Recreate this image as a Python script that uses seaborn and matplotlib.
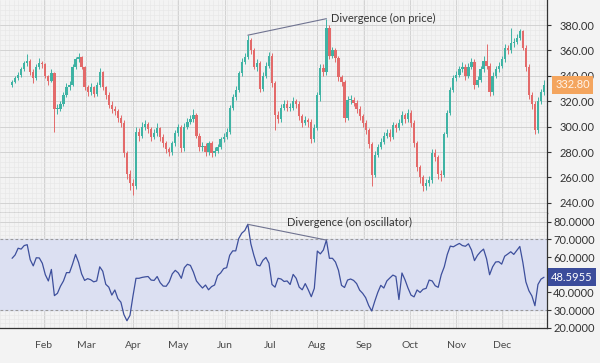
# %% Import packages
import numpy as np
import pandas as pd
import matplotlib
matplotlib.use("Agg")
import matplotlib.pyplot as plt
import matplotlib.dates as mdates
import matplotlib.ticker as mtick
import seaborn as sns

# %% Data (one candle every 2 days)
start_date = "2021-01-11"
first_open = 333

closes = [335, 338, 341, 345, 350, 352, 343, 338, 347, 350,
          349, 340, 336, 342, 314, 314, 318, 325, 331, 333,
          347, 353, 355, 347, 331, 327, 331, 326, 333, 343,
          331, 325, 317, 314, 312, 307, 303, 279, 263, 256,
          253, 296, 293, 300, 302, 298, 292, 295, 299, 292,
          287, 282, 280, 287, 295, 300, 283, 300, 304, 306,
          309, 293, 284, 285, 280, 287, 279, 281, 284, 290,
          292, 296, 315, 323, 329, 342, 351, 355, 368, 360,
          347, 350, 330, 340, 348, 356, 334, 309, 306, 315,
          318, 315, 315, 320, 318, 308, 303, 305, 304, 290,
          299, 325, 346, 343, 378, 356, 360, 354, 339, 335,
          307, 321, 321, 319, 314, 308, 303, 297, 286, 262,
          278, 284, 288, 293, 295, 292, 301, 299, 303, 309,
          306, 311, 303, 287, 268, 260, 253, 256, 258, 279,
          276, 263, 262, 294, 311, 329, 338, 341, 345, 347,
          340, 347, 351, 333, 337, 345, 352, 348, 327, 340,
          345, 348, 353, 362, 360, 366, 367, 370, 375, 362,
          347, 325, 318, 297, 320, 327, 332.8]

highs = [337, 340, 343, 347, 352, 357, 353, 345, 349, 354,
         352, 350, 341, 345, 343, 318, 320, 327, 334, 336,
         349, 355, 358, 356, 348, 333, 334, 332, 335, 346,
         344, 332, 327, 320, 316, 314, 309, 305, 281, 266,
         259, 300, 299, 304, 305, 304, 300, 298, 303, 300,
         294, 289, 284, 289, 297, 302, 301, 303, 307, 309,
         314, 311, 295, 288, 287, 289, 289, 284, 286, 292,
         295, 299, 317, 326, 332, 344, 354, 358, 372, 370,
         362, 353, 352, 343, 351, 359, 358, 336, 312, 318,
         321, 321, 319, 323, 322, 320, 310, 308, 307, 306,
         302, 327, 349, 349, 385, 380, 363, 362, 356, 341,
         337, 324, 325, 323, 321, 316, 310, 305, 299, 288,
         281, 286, 291, 296, 298, 298, 304, 303, 306, 312,
         311, 314, 313, 305, 289, 270, 262, 259, 261, 282,
         282, 278, 266, 296, 313, 331, 341, 344, 348, 351,
         349, 350, 354, 353, 340, 348, 356, 365, 350, 343,
         348, 351, 356, 365, 364, 378, 370, 373, 377, 376,
         364, 349, 327, 320, 323, 330, 337]

lows = [331, 334, 337, 339, 344, 348, 341, 334, 337, 345,
        346, 338, 333, 335, 296, 310, 312, 316, 323, 329,
        332, 345, 351, 345, 329, 324, 325, 323, 324, 331,
        329, 322, 315, 311, 309, 304, 300, 276, 259, 250,
        246, 251, 289, 291, 297, 295, 289, 290, 293, 289,
        284, 279, 277, 278, 285, 293, 280, 281, 298, 302,
        304, 291, 281, 281, 277, 278, 276, 277, 279, 282,
        288, 290, 294, 313, 321, 327, 340, 349, 353, 357,
        345, 344, 327, 328, 338, 346, 331, 297, 303, 304,
        313, 312, 312, 313, 315, 305, 300, 301, 300, 287,
        288, 297, 320, 340, 341, 353, 354, 351, 336, 332,
        304, 305, 318, 316, 311, 305, 300, 294, 283, 253,
        260, 276, 282, 286, 291, 289, 290, 296, 297, 301,
        303, 304, 300, 284, 265, 256, 249, 250, 253, 256,
        273, 259, 257, 260, 292, 309, 327, 336, 339, 343,
        337, 338, 345, 330, 331, 335, 343, 345, 324, 325,
        338, 343, 346, 351, 357, 358, 363, 365, 368, 360,
        344, 322, 314, 294, 295, 318, 325]

rsi = [59.3, 61.2, 65.0, 64.5, 66.5, 67.0, 58.5, 55.0, 59.6, 59.5,
       56.5, 50.0, 46.5, 53.0, 38.2, 39.5, 43.5, 46.5, 51.2, 51.2,
       56.0, 61.5, 57.0, 50.5, 46.8, 47.8, 47.2, 46.0, 46.5, 54.5,
       52.0, 44.6, 43.0, 38.5, 41.4, 36.5, 34.5, 27.5, 24.0, 27.0,
       38.0, 48.0, 48.0, 48.5, 48.8, 49.0, 47.0, 46.8, 49.0, 45.5,
       43.6, 43.5, 46.0, 50.5, 52.5, 51.0, 48.0, 54.0, 55.9, 55.3,
       51.5, 46.5, 44.4, 42.5, 44.2, 41.5, 43.3, 44.2, 49.5, 51.0,
       53.5, 54.0, 61.0, 63.5, 63.5, 70.5, 73.5, 75.0, 78.5, 67.5,
       61.0, 55.5, 55.0, 58.2, 59.8, 56.5, 44.5, 43.0, 48.0, 47.6,
       46.2, 46.5, 44.5, 50.2, 48.0, 43.0, 41.5, 45.0, 41.5, 37.6,
       42.3, 63.4, 61.8, 64.0, 69.6, 59.3, 59.3, 57.2, 52.5, 44.0,
       42.8, 47.0, 47.6, 46.8, 45.0, 41.3, 39.5, 37.0, 32.6, 29.5,
       35.0, 40.0, 44.0, 42.5, 46.5, 48.2, 49.8, 49.0, 36.0, 51.0,
       47.2, 42.5, 38.5, 37.5, 41.4, 40.0, 41.8, 42.3, 47.0, 46.5,
       43.8, 42.9, 50.0, 54.5, 61.5, 66.2, 65.8, 66.8, 67.7, 66.5,
       66.1, 67.5, 64.0, 58.0, 61.0, 63.0, 64.5, 59.0, 50.0, 54.5,
       57.2, 57.4, 56.0, 60.5, 61.7, 63.0, 61.5, 63.7, 66.0, 57.0,
       46.0, 41.0, 38.0, 32.5, 44.5, 47.5, 48.5955]

price_ticks = [240, 260, 280, 300, 320, 340, 360, 380]
rsi_ticks = [20, 30, 40, 50, 60, 70, 80]
rsi_band = (30, 70)
last_price_label = "332.80"
last_rsi_label = "48.5955"
price_note = "Divergence (on price)"
osc_note = "Divergence (on oscillator)"
div_from, div_to = 78, 104  # candle indices of the two peaks
osc_note_idx = 91           # candle index where the oscillator note starts

# %% Frame
df = pd.DataFrame({"Date": pd.date_range(start_date, periods=len(closes), freq="2D"),
                   "Close": closes, "High": highs, "Low": lows, "RSI": rsi})
df["Open"] = df["Close"].shift(1).fillna(first_open)
df["BodyLow"] = df[["Open", "Close"]].min(axis=1)
df["BodyHeight"] = (df["Close"] - df["Open"]).abs().clip(lower=0.8)

up_color, down_color = "#3fb3a4", "#e36a6a"
candle_colors = np.where(df["Close"] >= df["Open"], up_color, down_color)

# %% Plot
sns.set_theme(style="whitegrid")
plt.rcParams["font.family"] = ["Lato", "DejaVu Sans"]

bg = "#f3f3f3"
fig = plt.figure(figsize=(6, 3.63), dpi=100, facecolor=bg)
ax1 = fig.add_axes([0.0, 0.4132, 0.9117, 0.5868])
ax2 = fig.add_axes([0.0, 0.0964, 0.9117, 0.3168], sharex=ax1)

# candles
ax1.vlines(df["Date"], df["Low"], df["High"], colors=candle_colors, lw=0.7, zorder=3)
ax1.bar(df["Date"], df["BodyHeight"], bottom=df["BodyLow"], width=1.5,
        color=candle_colors, linewidth=0, zorder=4)

# oscillator
ax2.axhspan(rsi_band[0], rsi_band[1], color="#dce0f2", zorder=1)
for lvl in rsi_band:
    ax2.axhline(lvl, color="#9a9a9a", lw=0.8, ls=(0, (2.5, 2)), zorder=2)
sns.lineplot(data=df, x="Date", y="RSI", ax=ax2, color="#3d4f9c", lw=0.9, zorder=5)

# divergence lines and notes
div_color = "#6f7390"
ax1.plot(df["Date"].iloc[[div_from, div_to]], df["High"].iloc[[div_from, div_to]],
         color=div_color, lw=0.8, zorder=5)
ax1.annotate(price_note, xy=(df["Date"].iloc[div_to], df["High"].iloc[div_to]),
             xytext=(3, 0), textcoords="offset points", ha="left", va="center",
             fontsize=8, color="#333333", zorder=6)
ax2.plot(df["Date"].iloc[[div_from, div_to]], df["RSI"].iloc[[div_from, div_to]],
         color=div_color, lw=0.8, zorder=5)
ax2.text(df["Date"].iloc[osc_note_idx], 79.4, osc_note, ha="left", va="center",
         fontsize=8, color="#333333", zorder=6)

# axes styling
for ax in (ax1, ax2):
    ax.set_facecolor(bg)
    ax.set_xlabel("")
    ax.set_ylabel("")
    ax.yaxis.tick_right()
    ax.grid(which="major", color="#d2d2d2", lw=0.7)
    ax.grid(which="minor", color="#e6e6e6", lw=0.4)
    ax.xaxis.set_major_locator(mdates.MonthLocator(bymonth=range(2, 13)))
    ax.xaxis.set_major_formatter(mdates.DateFormatter("%b"))
    ax.xaxis.set_minor_locator(mdates.DayLocator(interval=3))
    ax.tick_params(which="minor", length=0)
    for side in ("left", "top"):
        ax.spines[side].set_visible(False)
    for side in ("right", "bottom"):
        ax.spines[side].set_color("#333333")
        ax.spines[side].set_linewidth(0.9)
    ax.set_axisbelow(True)

ax1.set_xlim(pd.Timestamp("2021-01-03"), pd.Timestamp("2021-12-31"))
ax1.set_ylim(232, 399.7)
ax1.set_yticks(price_ticks)
ax1.yaxis.set_major_formatter(mtick.FormatStrFormatter("%.2f"))
ax1.yaxis.set_minor_locator(mtick.MultipleLocator(4))
ax1.tick_params(axis="y", which="major", labelsize=8, labelcolor="#333333",
                color="#333333", length=3, width=0.8, pad=6, direction="out")
ax1.tick_params(axis="x", which="major", length=0, labelbottom=False)

ax2.set_ylim(19.9, 84.9)
ax2.set_yticks(rsi_ticks)
ax2.yaxis.set_major_formatter(mtick.FormatStrFormatter("%.4f"))
ax2.yaxis.set_minor_locator(mtick.MultipleLocator(2.5))
ax2.tick_params(axis="y", which="major", labelsize=8, labelcolor="#333333",
                color="#333333", length=3, width=0.8, pad=1.5, direction="out")
ax2.tick_params(axis="x", which="major", labelsize=7.5, labelcolor="#4a4a4a",
                color="#333333", length=3, width=0.8, pad=6, direction="out")

# last value labels on the price scale
ax1.annotate(last_price_label, xy=(1, df["Close"].iloc[-1]), xycoords=("axes fraction", "data"),
             xytext=(6, 0), textcoords="offset points", ha="left", va="center",
             fontsize=8, color="#fff4ea", annotation_clip=False, zorder=10,
             bbox=dict(boxstyle="square,pad=0.3", fc="#f4a55e", ec="none"))
ax2.annotate(last_rsi_label, xy=(1, df["RSI"].iloc[-1]), xycoords=("axes fraction", "data"),
             xytext=(3, 0), textcoords="offset points", ha="left", va="center",
             fontsize=8, color="white", annotation_clip=False, zorder=10,
             bbox=dict(boxstyle="square,pad=0.3", fc="#3b4c9b", ec="none"))

fig.savefig("out.png", dpi=100, facecolor=bg)
